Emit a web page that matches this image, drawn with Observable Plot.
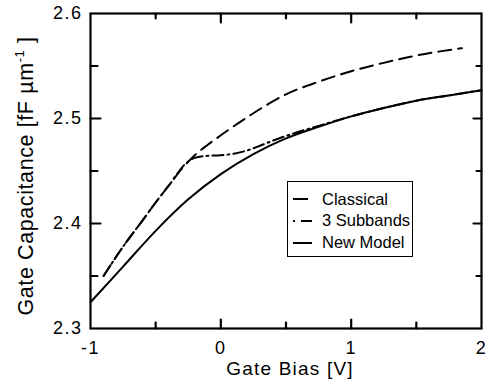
<!DOCTYPE html>
<html>
<head>
<meta charset="utf-8">
<script src="https://cdn.jsdelivr.net/npm/d3@7"></script>
<script src="https://cdn.jsdelivr.net/npm/@observablehq/plot@0.6"></script>
<style>
  html, body { margin: 0; padding: 0; background: #fff; }
  #chart { position: relative; width: 489px; height: 386px; }
  #chart g[aria-label="x-axis tick label"] text,
  #chart g[aria-label="y-axis tick label"] text { letter-spacing: 1.5px; }
  #legend {
    position: absolute; left: 287px; top: 181px; width: 124px; height: 74px;
    border: 1.5px solid #000; background: #fff;
    font-family: "Liberation Sans", Arial, Helvetica, sans-serif; font-size: 16.5px; color: #000;
  }
  #legend .row { position: absolute; left: 4px; height: 20px; display: flex; align-items: center; white-space: nowrap; }
  #legend svg { width: 22px; height: 10px; margin-right: 8px; }
</style>
</head>
<body>
<div id="chart"><div id="legend"></div></div>
<script>
// Gate capacitance vs gate bias for three charge models
const classicalBias = [-0.9, -0.75, -0.6, -0.5, -0.4, -0.3, -0.2, -0.1, 0, 0.2, 0.5, 0.75, 1, 1.25, 1.5, 1.85];
const classicalCap  = [2.350, 2.378, 2.403, 2.420, 2.436, 2.452, 2.465, 2.475, 2.484, 2.501, 2.523, 2.535, 2.545, 2.553, 2.560, 2.567];

const subbandBias = [-0.9, -0.75, -0.6, -0.5, -0.4, -0.27, -0.2, -0.1, 0, 0.1, 0.2, 0.3, 0.4, 0.55, 0.75, 1, 1.25, 1.5, 1.75, 2];
const subbandCap  = [2.350, 2.378, 2.403, 2.420, 2.436, 2.457, 2.4625, 2.4645, 2.465, 2.4665, 2.4695, 2.474, 2.479, 2.4855, 2.493, 2.502, 2.510, 2.517, 2.522, 2.527];

const modelBias = [-1, -0.75, -0.5, -0.25, 0, 0.25, 0.5, 0.75, 1, 1.25, 1.5, 1.75, 2];
const modelCap  = [2.325, 2.359, 2.393, 2.423, 2.447, 2.466, 2.481, 2.492, 2.502, 2.510, 2.517, 2.522, 2.527];

const seriesNames = ["Classical", "3 Subbands", "New Model"];

const xMajor = [-1, 0, 1, 2];
const xMinor = [-0.5, 0.5, 1.5];
const yMajor = [2.3, 2.4, 2.5, 2.6];
const yMinor = [2.35, 2.45, 2.55];

const xLabel = "Gate Bias [V]";
const yLabel = "Gate Capacitance [fF µm";
const yLabelSup = "-1";

const series = [
  {name: seriesNames[0], x: classicalBias, y: classicalCap, dash: "13,7", key: "15"},
  {name: seriesNames[1], x: subbandBias, y: subbandCap, dash: "11,4,2,4", key: "2,6,12"},
  {name: seriesNames[2], x: modelBias, y: modelCap, dash: null, key: null}
];

const font = "'Liberation Sans', Arial, Helvetica, sans-serif";
const [xMin, xMax] = [xMajor[0], xMajor[xMajor.length - 1]];
const [yMin, yMax] = [yMajor[0], yMajor[yMajor.length - 1]];

// plain stroke used for the short inward tick marks
const stub = {draw(context, l) { context.moveTo(0, 0); context.lineTo(0, -l); }};
const tickStyle = {stroke: "black", strokeWidth: 2.2, shape: stub, anchor: "start"};
// rotate: 0 points up, 180 down, 90 right, -90 left
const ticksBottom = (v, len) => Plot.vector(v, {x: d => d, y: yMin, length: len, rotate: 0, ...tickStyle});
const ticksTop = (v, len) => Plot.vector(v, {x: d => d, y: yMax, length: len, rotate: 180, ...tickStyle});
const ticksLeft = (v, len) => Plot.vector(v, {y: d => d, x: xMin, length: len, rotate: 90, ...tickStyle});
const ticksRight = (v, len) => Plot.vector(v, {y: d => d, x: xMax, length: len, rotate: -90, ...tickStyle});

const plot = Plot.plot({
  width: 489,
  height: 386,
  marginLeft: 90,
  marginRight: 8,
  marginTop: 13,
  marginBottom: 58,
  style: {fontFamily: font, background: "white", color: "black", overflow: "visible"},
  x: {domain: [xMin, xMax]},
  y: {domain: [yMin, yMax]},
  marks: [
    // curves
    ...series.map(s => Plot.line(s.x, {
      x: s.x, y: s.y, curve: "monotone-x",
      stroke: "black", strokeWidth: 2, strokeDasharray: s.dash
    })),
    ticksBottom(xMajor.slice(1, -1), 9),
    ticksBottom(xMinor, 6),
    ticksTop(xMajor.slice(1, -1), 9),
    ticksTop(xMinor, 5),
    ticksLeft(yMajor.slice(1, -1), 10),
    ticksLeft(yMinor, 7),
    ticksRight(yMajor.slice(1, -1), 8),
    ticksRight(yMinor, 5),
    // tick labels
    Plot.axisX(xMajor, {anchor: "bottom", tickSize: 0, tickPadding: 13, fontSize: 18, label: null,
      tickFormat: d => String(d)}),
    Plot.axisY(yMajor, {anchor: "left", tickSize: 0, tickPadding: 8, fontSize: 18, label: null,
      tickFormat: d3.format(".1f")}),
    // axis titles
    Plot.text([xLabel], {frameAnchor: "bottom", textAnchor: "middle", dx: 4, dy: 46, fontSize: 19,
      fill: "black", text: d => d}),
    Plot.text([yLabel], {frameAnchor: "left", textAnchor: "middle", rotate: -90, dx: -64, dy: 5,
      fontSize: 21.5, fill: "black", text: d => d}),
    Plot.frame({stroke: "black", strokeWidth: 2.2})
  ]
});

// title spacing and the superscript unit on the y title
const texts = d3.select(plot).selectAll("text");
texts.filter(function () { return this.textContent === xLabel; })
  .attr("letter-spacing", 1.2);
texts.filter(function () { return this.textContent === yLabel; })
  .attr("letter-spacing", 0.6)
  .each(function () {
    const t = d3.select(this);
    t.append("tspan").attr("dy", -9).attr("font-size", 13).text(yLabelSup);
    t.append("tspan").attr("dy", 9).text(" ]");
  });

const chart = document.getElementById("chart");
chart.insertBefore(plot, chart.firstChild);

// legend box inside the plot area
const legend = d3.select("#legend");
series.forEach((s, i) => {
  const row = legend.append("div").attr("class", "row").style("top", `${7 + i * 21.8}px`);
  const sw = row.append("svg").attr("viewBox", "0 0 22 10");
  sw.append("line")
    .attr("x1", 1).attr("x2", 20).attr("y1", 5).attr("y2", 5)
    .attr("stroke", "black").attr("stroke-width", 2)
    .attr("stroke-dasharray", s.key);
  row.append("span").text(s.name);
});
</script>
</body>
</html>
